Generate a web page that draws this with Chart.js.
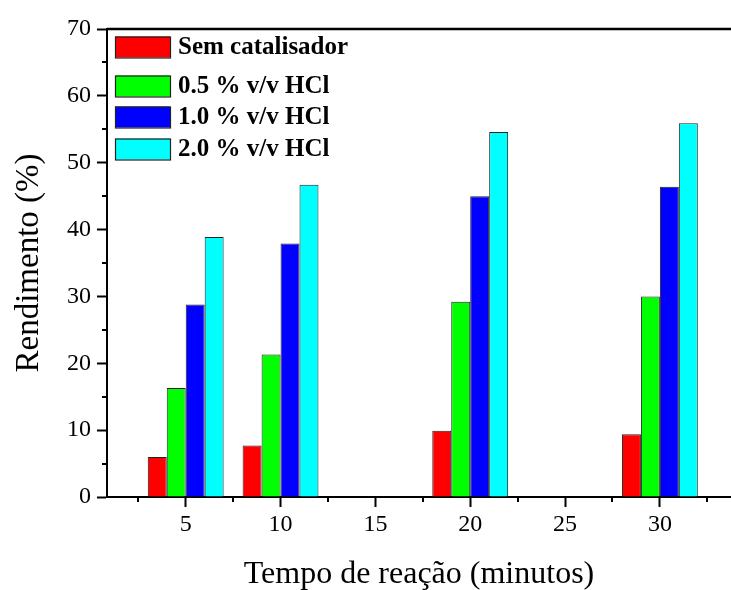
<!DOCTYPE html>
<html lang="pt">
  <head>
    <meta charset="UTF-8" />
    <title>Rendimento x Tempo de reação</title>
    <script src="https://cdn.jsdelivr.net/npm/chart.js"></script>
    <style>
      body { margin: 0; background: #fff; }
      .chart-box { width: 731px; height: 590px; }
    </style>
  </head>
  <body>
    <div class="chart-box">
      <canvas id="yieldChart"></canvas>
    </div>

    <script>
      // data
      const tempos = [5, 10, 20, 30];
      const semCatalisador = [6.0, 7.7, 9.9, 9.4];
      const hcl05 = [16.3, 21.3, 29.2, 30.0];
      const hcl10 = [28.8, 37.9, 45.0, 46.4];
      const hcl20 = [38.9, 46.7, 54.6, 55.9];
      const seriesLabels = ["Sem catalisador", "0.5 % v/v HCl", "1.0 % v/v HCl", "2.0 % v/v HCl"];
      const xTicks = [5, 10, 15, 20, 25, 30];
      const xMinorTicks = [2.5, 7.5, 12.5, 17.5, 22.5, 27.5, 32.5];
      const yTicks = [0, 10, 20, 30, 40, 50, 60, 70];
      const yMinorTicks = [5, 15, 25, 35, 45, 55, 65];

      const colors = ["#ff0000", "#00ff00", "#0000ff", "#00ffff"];
      const serif = "'Liberation Serif', 'Times New Roman', serif";

      function points(values) {
        return values.map((v, i) => ({ x: tempos[i], y: v }));
      }

      // minor ticks, top frame line and the legend inside the plot
      const decor = {
        id: "decor",
        afterDraw(chart) {
          const ctx = chart.ctx;
          const area = chart.chartArea;
          const xs = chart.scales.x;
          const ys = chart.scales.y;
          ctx.save();
          ctx.strokeStyle = "#000";
          ctx.lineWidth = 2;
          ctx.beginPath();
          xMinorTicks.forEach((v) => {
            const px = Math.round(xs.getPixelForValue(v));
            ctx.moveTo(px, area.bottom);
            ctx.lineTo(px, area.bottom + 5);
          });
          yMinorTicks.forEach((v) => {
            const py = Math.round(ys.getPixelForValue(v));
            ctx.moveTo(area.left, py);
            ctx.lineTo(area.left - 5, py);
          });
          ctx.stroke();
          ctx.lineWidth = 2.5;
          ctx.beginPath();
          ctx.moveTo(area.left, area.top);
          ctx.lineTo(area.right, area.top);
          ctx.stroke();

          // legend
          const rowOffsets = [18, 57, 88, 120];
          ctx.font = "bold 25px " + serif;
          ctx.textBaseline = "middle";
          chart.data.datasets.forEach((ds, i) => {
            const cy = area.top + rowOffsets[i];
            const bx = area.left + 8;
            ctx.fillStyle = ds.backgroundColor;
            ctx.fillRect(bx, cy - 10.5, 55, 21);
            ctx.lineWidth = 1.2;
            ctx.strokeStyle = "#222";
            ctx.strokeRect(bx + 0.5, cy - 10, 55, 21);
            ctx.fillStyle = "#000";
            ctx.fillText(ds.label, bx + 63, cy + 1);
          });
          ctx.restore();
        },
      };

      const ctx = document.getElementById("yieldChart").getContext("2d");
      new Chart(ctx, {
        type: "bar",
        data: {
          datasets: [
            { label: seriesLabels[0], data: points(semCatalisador), backgroundColor: colors[0] },
            { label: seriesLabels[1], data: points(hcl05), backgroundColor: colors[1] },
            { label: seriesLabels[2], data: points(hcl10), backgroundColor: colors[2] },
            { label: seriesLabels[3], data: points(hcl20), backgroundColor: colors[3] },
          ],
        },
        options: {
          responsive: true,
          maintainAspectRatio: false,
          animation: false,
          layout: { padding: { top: 29, right: 0, left: 0, bottom: 0 } },
          datasets: {
            bar: {
              borderColor: "#222",
              borderWidth: 1,
              barPercentage: 1.0,
              categoryPercentage: 0.8,
            },
          },
          plugins: {
            legend: { display: false },
            tooltip: { enabled: false },
          },
          scales: {
            x: {
              type: "linear",
              min: 0.85,
              max: 33.75,
              offset: false,
              afterFit: (scale) => { scale.height = 93; },
              afterBuildTicks: (scale) => { scale.ticks = xTicks.map((v) => ({ value: v })); },
              grid: {
                offset: false,
                drawOnChartArea: false,
                tickLength: 10,
                tickWidth: 2,
                tickColor: "#000",
              },
              border: { display: true, color: "#000", width: 2 },
              ticks: {
                color: "#000",
                padding: 3,
                maxRotation: 0,
                font: { family: serif, size: 24 },
              },
              title: {
                display: true,
                text: "Tempo de reação (minutos)",
                color: "#000",
                font: { family: serif, size: 32, lineHeight: 1 },
                padding: { top: 0, bottom: -1 },
              },
            },
            y: {
              min: 0,
              max: 70,
              afterFit: (scale) => { scale.width = 107; },
              afterBuildTicks: (scale) => { scale.ticks = yTicks.map((v) => ({ value: v })); },
              grid: {
                drawOnChartArea: false,
                tickLength: 10,
                tickWidth: 2,
                tickColor: "#000",
              },
              border: { display: true, color: "#000", width: 2 },
              ticks: {
                color: "#000",
                padding: 6,
                font: { family: serif, size: 24 },
              },
              title: {
                display: true,
                text: "Rendimento (%)",
                color: "#000",
                font: { family: serif, size: 33, lineHeight: 1.2 },
                padding: { top: 10, bottom: 0 },
              },
            },
          },
        },
        plugins: [decor],
      });
    </script>
  </body>
</html>
